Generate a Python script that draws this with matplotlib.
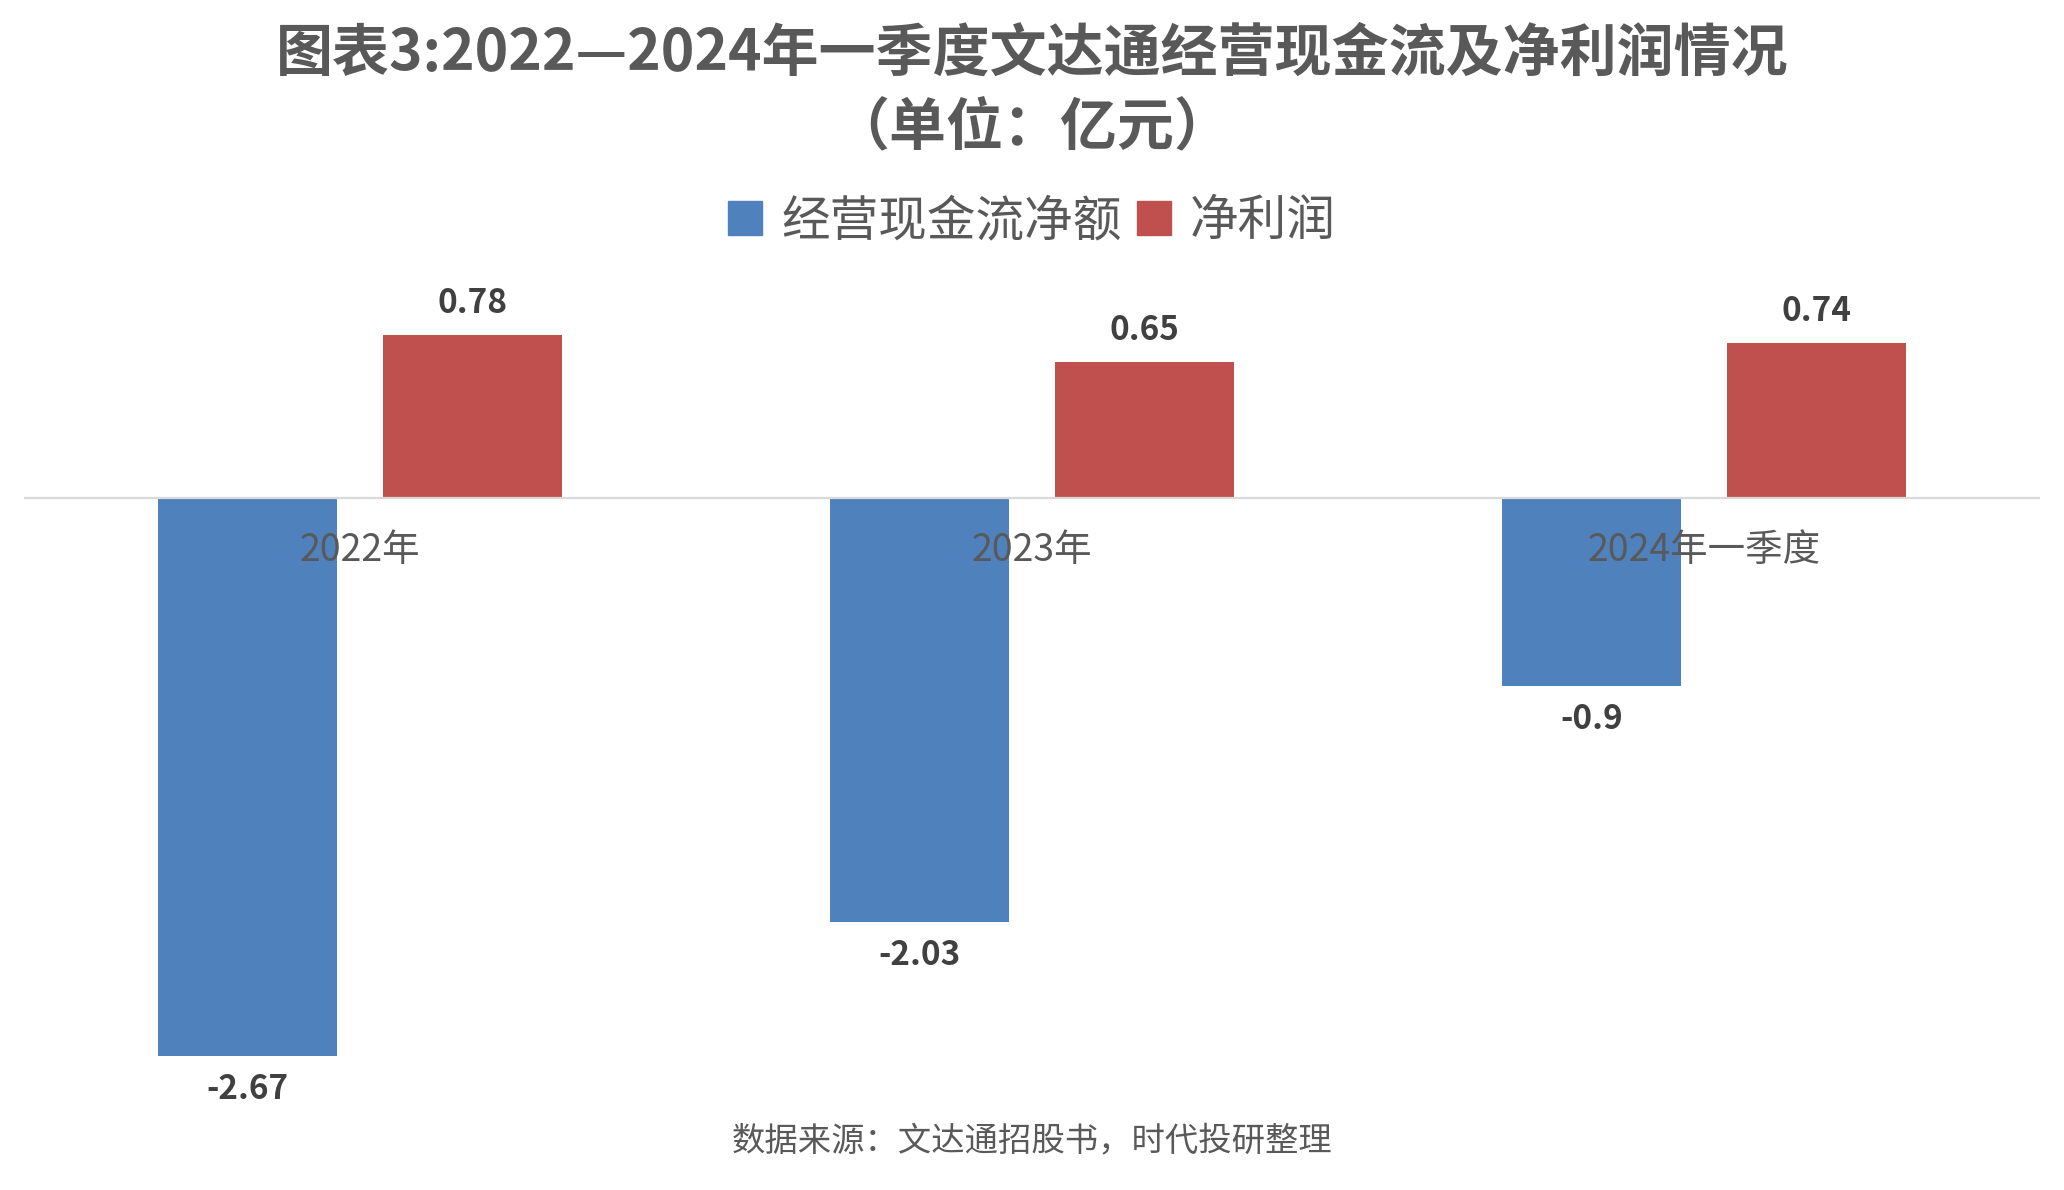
import matplotlib
matplotlib.use("Agg")
import matplotlib.pyplot as plt
import numpy as np
from matplotlib.patches import Patch

plt.rcParams['font.family'] = ['Noto Sans CJK SC', 'DejaVu Sans']

# data (亿元)
categories = ["2022年", "2023年", "2024年一季度"]
cash_flow = [-2.67, -2.03, -0.9]
net_profit = [0.78, 0.65, 0.74]
series_names = ["经营现金流净额", "净利润"]

blue = "#4F81BD"
red = "#C0504D"
gray = "#595959"

fig = plt.figure(figsize=(20.64, 11.9), dpi=100)
ax = fig.add_axes([0.01163, 0.0756, 0.97674, 0.689])

x = np.arange(len(categories))
w = 0.267
off = 0.167
b1 = ax.bar(x - off, cash_flow, w, color=blue, zorder=2)
b2 = ax.bar(x + off, net_profit, w, color=red, zorder=2)

# value labels
for rect, v in zip(b1, cash_flow):
    ax.annotate(f"{v:g}", (rect.get_x() + rect.get_width() / 2, v),
                xytext=(0, -24), textcoords="offset points",
                ha="center", va="center", fontsize=24, fontweight="bold", color="#404040")
for rect, v in zip(b2, net_profit):
    ax.annotate(f"{v:g}", (rect.get_x() + rect.get_width() / 2, v),
                xytext=(0, 23), textcoords="offset points",
                ha="center", va="center", fontsize=24, fontweight="bold", color="#404040")

ax.set_xlim(-0.5, 2.5)
ax.set_ylim(-2.88, 1.043)
ax.axhline(0, color="#D9D9D9", linewidth=1.6, zorder=3)

for s in ax.spines.values():
    s.set_visible(False)
ax.spines['bottom'].set_position(('data', 0))
ax.set_yticks([])
ax.set_xticks(x)
ax.set_xticklabels(categories, fontsize=27, color=gray, fontweight="medium")
ax.tick_params(axis="x", length=0, pad=24)
ax.xaxis.set_zorder(5)  # category labels sit on top of the bars

fig.text(0.5, 0.955, "图表3:2022—2024年一季度文达通经营现金流及净利润情况",
         ha="center", va="center", fontsize=41, fontweight="bold", color=gray)
fig.text(0.5, 0.893, "（单位：亿元）",
         ha="center", va="center", fontsize=41, fontweight="bold", color=gray)

handles = [Patch(color=blue), Patch(color=red)]
fig.legend(handles, series_names, loc="center", bbox_to_anchor=(0.5, 0.814),
           ncol=2, frameon=False, fontsize=35, labelcolor=gray,
           handlelength=0.7, handleheight=0.7, handletextpad=0.4, columnspacing=0.3)

fig.text(0.5, 0.041, "数据来源：文达通招股书，时代投研整理",
         ha="center", va="center", fontsize=24, color=gray)

fig.savefig("out.png", dpi=100, facecolor="white")
